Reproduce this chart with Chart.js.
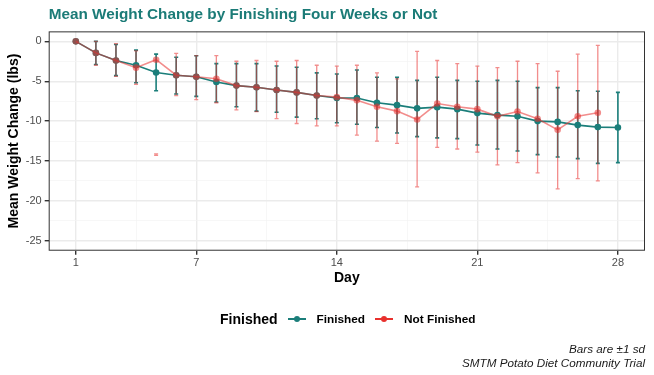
<!DOCTYPE html>
<html lang="en">
<head>
  <meta charset="UTF-8">
  <title>Mean Weight Change by Finishing Four Weeks or Not</title>
  <script src="https://cdn.jsdelivr.net/npm/chart.js"></script>
  <style>
    html, body { margin: 0; padding: 0; background: #fff; }
    #wrap { position: relative; width: 654px; height: 375px; }
    #legend {
      position: absolute; top: 311px; left: 220px;
      display: flex; align-items: center;
      font-family: "Liberation Sans", Arial, sans-serif; font-weight: bold; color: #000;
    }
    #legend .ttl { font-size: 14px; margin-right: 10px; }
    #legend .item { font-size: 11.8px; display: flex; align-items: center; margin-right: 10px; }
    #legend .key { position: relative; width: 18px; height: 2px; margin-right: 11px; }
    #legend .key i {
      position: absolute; left: 6px; top: -2px; width: 6px; height: 6px; border-radius: 50%;
      background: inherit;
    }
  </style>
</head>
<body>
  <div id="wrap">
    <canvas id="weightChart"></canvas>
    <div id="legend">
      <span class="ttl">Finished</span>
      <span class="item"><span class="key" style="background:#1B7E7A"><i></i></span>Finished</span>
      <span class="item"><span class="key" style="background:#E8302D"><i></i></span>Not Finished</span>
    </div>
  </div>

  <script>
    const days = [];
    for (let d = 1; d <= 28; d++) days.push(d);

    // Finished group: mean and +/- 1 sd
    const finMean = [0, -1.45, -2.4, -3.0, -3.9, -4.25, -4.45, -5.1, -5.55, -5.75, -6.1, -6.4, -6.8, -7.1,
                     -7.1, -7.7, -8.0, -8.4, -8.25, -8.5, -9.0, -9.25, -9.4, -10.0, -10.1, -10.5, -10.75, -10.8];
    const finHi = [0, 0, -0.4, -1.1, -1.6, -2.0, -1.8, -2.8, -2.8, -2.8, -3.1, -3.25, -3.95, -4.1,
                   -3.6, -4.5, -4.5, -4.9, -4.5, -4.9, -5.0, -4.9, -5.0, -5.8, -5.8, -6.2, -6.25, -6.4];
    const finLo = [0, -2.9, -4.3, -5.2, -6.2, -6.6, -6.9, -7.6, -8.2, -8.75, -8.9, -9.5, -9.7, -10.2,
                   -10.4, -10.8, -11.5, -11.95, -12.1, -12.2, -13.0, -13.5, -13.75, -14.2, -14.5, -14.7, -15.3, -15.2];

    // Not finished group
    const notMean = [0, -1.45, -2.4, -3.3, -2.3, -4.25, -4.45, -4.7, -5.55, -5.75, -6.1, -6.4, -6.8, -7.0,
                     -7.4, -8.2, -8.75, -9.8, -7.8, -8.2, -8.5, -9.4, -8.8, -9.7, -11.1, -9.4, -8.95, null];
    const notHi = [0, 0, -0.3, -1.2, -14.1, -1.5, -1.8, -1.8, -2.5, -2.4, -2.5, -2.4, -3.0, -3.1,
                   -3.0, -3.95, -4.7, -1.25, -2.4, -2.8, -3.1, -3.3, -2.5, -2.8, -3.75, -1.6, -0.5, null];
    const notLo = [0, -3.0, -4.4, -5.4, -14.3, -6.8, -7.3, -7.7, -8.6, -8.8, -9.7, -10.3, -10.6, -10.6,
                   -11.75, -12.5, -12.8, -18.25, -13.3, -13.5, -13.9, -15.5, -15.2, -16.5, -18.5, -17.2, -17.5, null];

    const xMajor = [1, 7, 14, 21, 28];
    const xMinor = [4, 10.5, 17.5, 24.5];
    const yMajor = [-25, -20, -15, -10, -5, 0];
    const yMinor = [-22.5, -17.5, -12.5, -7.5, -2.5];

    const teal = '#1B7E7A';
    const redA = 'rgba(232, 48, 45, 0.55)';
    const fontName = '"Liberation Sans", Arial, sans-serif';

    const pts = (vals) => days.map((d, i) => ({ x: d, y: vals[i] }));

    const errorBars = {
      id: 'errorBars',
      beforeDatasetsDraw(chart) {
        const { ctx, scales: { x, y } } = chart;
        const draw = (lo, hi, color, lw) => {
          ctx.save();
          ctx.strokeStyle = color;
          ctx.lineWidth = lw;
          days.forEach((d, i) => {
            if (lo[i] == null || (lo[i] === 0 && hi[i] === 0)) return;
            const px = x.getPixelForValue(d);
            const top = y.getPixelForValue(hi[i]);
            const bot = y.getPixelForValue(lo[i]);
            ctx.beginPath();
            ctx.moveTo(px, top); ctx.lineTo(px, bot);
            ctx.moveTo(px - 2, top); ctx.lineTo(px + 2, top);
            ctx.moveTo(px - 2, bot); ctx.lineTo(px + 2, bot);
            ctx.stroke();
          });
          ctx.restore();
        };
        draw(finLo, finHi, teal, 1.6);
        draw(notLo, notHi, redA, 1.3);
      }
    };

    const panelBorder = {
      id: 'panelBorder',
      afterDraw(chart) {
        const { ctx, chartArea: a } = chart;
        ctx.save();
        ctx.strokeStyle = '#333333';
        ctx.lineWidth = 1;
        ctx.strokeRect(a.left + 0.5, a.top + 0.5, a.right - a.left - 1, a.bottom - a.top - 1);
        ctx.restore();
      }
    };

    const isMajor = (list, v) => list.some(m => Math.abs(m - v) < 1e-6);

    new Chart(document.getElementById('weightChart').getContext('2d'), {
      type: 'line',
      data: {
        datasets: [
          {
            label: 'Not Finished',
            data: pts(notMean),
            borderColor: redA,
            backgroundColor: redA,
            borderWidth: 1.6,
            pointRadius: 3.3,
            pointBorderWidth: 0,
            order: 0
          },
          {
            label: 'Finished',
            data: pts(finMean),
            borderColor: teal,
            backgroundColor: teal,
            borderWidth: 1.6,
            pointRadius: 3.3,
            pointBorderWidth: 0,
            order: 1
          }
        ]
      },
      options: {
        responsive: true,
        maintainAspectRatio: false,
        animation: false,
        layout: { padding: { left: 6, right: 9, top: 0, bottom: 0 } },
        scales: {
          x: {
            type: 'linear',
            min: -0.35,
            max: 29.35,
            afterBuildTicks: (s) => { s.ticks = xMajor.concat(xMinor).sort((a, b) => a - b).map(v => ({ value: v })); },
            ticks: {
              autoSkip: false,
              maxRotation: 0,
              padding: 2,
              color: '#4D4D4D',
              font: { family: fontName, size: 11 },
              callback: (v) => isMajor(xMajor, v) ? String(v) : ''
            },
            grid: {
              color: (c) => isMajor(xMajor, c.tick.value) ? '#EBEBEB' : '#F4F4F4',
              lineWidth: (c) => isMajor(xMajor, c.tick.value) ? 1.4 : 0.7,
              tickColor: (c) => isMajor(xMajor, c.tick.value) ? '#333333' : 'rgba(0,0,0,0)',
              tickLength: 4
            },
            border: { display: false },
            title: {
              display: true,
              text: 'Day',
              color: '#000',
              font: { family: fontName, size: 14, weight: 'bold', lineHeight: 1 },
              padding: { top: -1, bottom: 0 }
            }
          },
          y: {
            min: -26.25,
            max: 1.25,
            afterBuildTicks: (s) => { s.ticks = yMajor.concat(yMinor).sort((a, b) => a - b).map(v => ({ value: v })); },
            ticks: {
              autoSkip: false,
              padding: 3,
              color: '#4D4D4D',
              font: { family: fontName, size: 11 },
              callback: (v) => isMajor(yMajor, v) ? String(v) : ''
            },
            grid: {
              color: (c) => isMajor(yMajor, c.tick.value) ? '#EBEBEB' : '#F4F4F4',
              lineWidth: (c) => isMajor(yMajor, c.tick.value) ? 1.4 : 0.7,
              tickColor: (c) => isMajor(yMajor, c.tick.value) ? '#333333' : 'rgba(0,0,0,0)',
              tickLength: 4
            },
            border: { display: false },
            title: {
              display: true,
              text: 'Mean Weight Change (lbs)',
              color: '#000',
              font: { family: fontName, size: 14, weight: 'bold' },
              padding: { top: 0, bottom: 0 }
            }
          }
        },
        plugins: {
          legend: { display: false },
          tooltip: { enabled: false },
          title: {
            display: true,
            text: 'Mean Weight Change by Finishing Four Weeks or Not',
            align: 'start',
            fullSize: false,
            color: '#1B7B77',
            font: { family: fontName, size: 15.3, weight: 'bold' },
            padding: { top: 6, bottom: 7 }
          },
          subtitle: {
            display: true,
            position: 'bottom',
            align: 'end',
            fullSize: false,
            text: ['Bars are \u00B11 sd', 'SMTM Potato Diet Community Trial'],
            color: '#1A1A1A',
            font: { family: fontName, size: 11.7, style: 'italic', lineHeight: 1.2 },
            padding: { top: 58, bottom: 4 }
          }
        }
      },
      plugins: [errorBars, panelBorder]
    });
  </script>
</body>
</html>
